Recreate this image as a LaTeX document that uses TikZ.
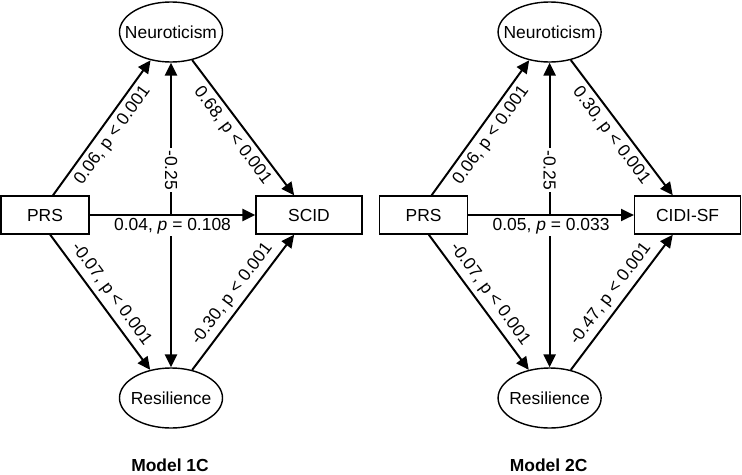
\documentclass[tikz,border=0pt]{standalone}
\usepackage{fontspec}
\setmainfont{Liberation Sans}
\usetikzlibrary{
    arrows.meta,
    shapes.geometric
}
\newcommand{\figfont}{\fontsize{12.4}{14}\selectfont}
\tikzset{
    % Nodes
    latent/.style={ellipse,draw,line width=1pt,minimum width=2.575cm,minimum height=1.5cm,inner xsep=-0.24cm,inner ysep=0pt},
    observed/.style={rectangle,draw,line width=1pt,minimum height=0.95cm,inner sep=0pt},
    model title/.style={font=\figfont\bfseries},
    %
    % Arrows
    arrow tip/.tip={Triangle[length=0.32cm,width=0.3cm]},
    path arr/.style={-{arrow tip},line width=1.4pt},
    cov arr/.style={{arrow tip}-{arrow tip},line width=1.4pt},
    coef/.style={sloped,midway},
    boxed coef/.style={fill=white,inner sep=1.5pt}
}
\tikzstyle{every node}=[font=\figfont]

\begin{document}
\begin{tikzpicture}[x=0.025cm,y=-0.025cm]
        \useasboundingbox (0,0) rectangle (742,474);

        % Model 1C
        \node[latent] (neuro1) at (171,32) {Neuroticism};
        \node[latent] (res1) at (171,398) {Resilience};
        \node[observed,minimum width=2.2cm] (prs1) at (45,215) {PRS};
        \node[observed,minimum width=2.65cm] (scid1) at (309,215) {SCID};

        \draw[cov arr] (neuro1) -- (res1) node[pos=.353,sloped,boxed coef] {-0.25};
        \draw[path arr] (prs1) -- (scid1) node[midway,below,boxed coef] {0.04, \textit{p} = 0.108};
        \draw[path arr] ([xshift=.2cm]prs1.north) -- (neuro1) node[coef,below] {0.06, p < 0.001};
        \draw[path arr] (neuro1) -- (scid1) node[coef,below] {0.68, p < 0.001};
        \draw[path arr] ([xshift=.13cm]prs1.south) -- (res1) node[coef,above] {-0.07, p < 0.001};
        \draw[path arr] (res1) -- (scid1) node[coef,above] {-0.30, p < 0.001};

        \node[model title] (title1) at (170,465) {Model 1C};

        % Model 2C
        \begin{scope}[xshift=9.4625cm]
            \node[latent] (neuro2) at (171,32) {Neuroticism};
            \node[latent] (res2) at (171,398) {Resilience};
            \node[observed,minimum width=2.2cm] (prs2) at (45,215) {PRS};
            \node[observed,minimum width=2.65cm] (cidi2) at (309,215) {CIDI-SF};

            \draw[cov arr] (neuro2) -- (res2) node[pos=.353,sloped,boxed coef] {-0.25};
            \draw[path arr] (prs2) -- (cidi2) node[midway,below,boxed coef] {0.05, \textit{p} = 0.033};
            \draw[path arr] ([xshift=.2cm]prs2.north) -- (neuro2) node[coef,below] {0.06, p < 0.001};
            \draw[path arr] (neuro2) -- (cidi2) node[coef,below] {0.30, p < 0.001};
            \draw[path arr] ([xshift=.13cm]prs2.south) -- (res2) node[coef,above] {-0.07, p < 0.001};
            \draw[path arr] (res2) -- (cidi2) node[coef,above] {-0.47, p < 0.001};

            \node[model title] (title2) at (170,465) {Model 2C};
        \end{scope}
    \end{tikzpicture}
\end{document}
